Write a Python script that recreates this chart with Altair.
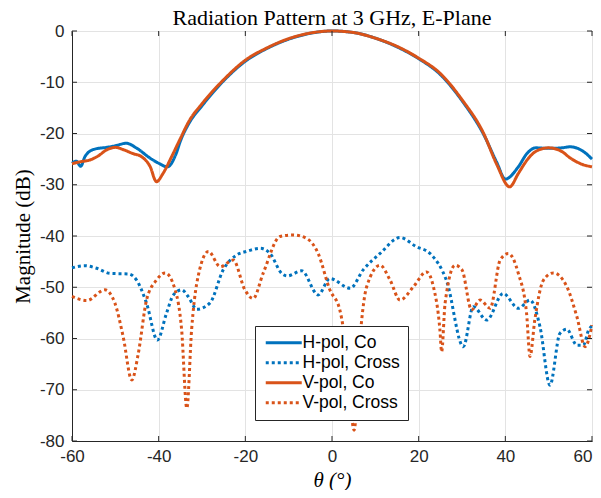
import altair as alt
import pandas as pd

# ---- data ----
h_co_theta = [-60, -59, -58, -57, -55, -52, -50, -47.5, -45, -42, -40, -38, -36, -35, -33, -30, -25, -20, -15, -10, -5, 0,
              5, 10, 15, 20, 25, 30, 35, 38, 40, 43, 45, 47, 50, 53, 55, 58, 60]
h_co_db = [-25.8, -25.4, -26.4, -24.5, -23.1, -22.7, -22.4, -21.9, -22.9, -24.8, -25.8, -26.5, -24.0, -21.5, -18.0, -14.6,
           -9.7, -5.9, -3.4, -1.6, -0.45, 0.0, -0.3, -1.4, -3.1, -5.4, -8.5, -13.6, -20.2, -25.6, -28.9, -26.5, -23.9,
           -22.8, -22.9, -22.8, -22.6, -23.5, -25.0]

v_co_theta = [-60, -58, -56, -54, -52, -50, -48, -46, -44, -42, -40.5, -39, -37, -35, -33, -30, -25, -20, -15, -10, -5, 0,
              5, 10, 15, 20, 25, 30, 35, 38, 41, 43, 45, 47, 50, 53, 55, 58, 60]
v_co_db = [-25.9, -25.5, -25.2, -24.4, -23.2, -22.7, -23.2, -23.9, -24.5, -26.4, -29.4, -27.8, -24.5, -21.0, -17.6, -14.2,
           -9.5, -5.7, -3.3, -1.5, -0.4, 0.0, -0.3, -1.4, -3.0, -5.3, -8.3, -13.4, -20.0, -26.0, -30.4, -27.8, -25.2,
           -23.5, -22.8, -23.5, -24.8, -26.1, -26.5]

h_x_theta = [-60, -57, -54.3, -51.2, -47, -45.1, -42.8, -40.3, -38.2, -36.6, -34.7, -33.2, -31.2, -28.2, -25.1, -22,
             -19.7, -16.6, -14.3, -11.6, -10.3, -7, -3.2, -0.5, 4.2, 7.2, 11.1, 15.7, 19.5, 22.6, 26.5, 30.3, 32.6,
             35.7, 39.5, 43, 45.7, 48, 50.3, 52.6, 54.2, 56.5, 58, 59.2, 60]
h_x_db = [-46.2, -45.8, -46.3, -47.3, -47.4, -48.6, -53.1, -60.3, -55.1, -51.5, -50.5, -51.8, -54.3, -53.1, -46.6, -43.7,
          -43.0, -42.4, -43.4, -47.3, -47.8, -46.8, -51.5, -48.3, -50.2, -46.6, -43.4, -40.3, -42.1, -43.4, -48.9, -61.6,
          -53.8, -56.4, -51.2, -54.1, -52.5, -57.7, -69.1, -59.0, -58.2, -61.3, -61.3, -58.4, -57.5]

v_x_theta = [-60, -56.6, -52.4, -50.1, -48.2, -46.2, -44.7, -42.8, -40.5, -38.5, -36.2, -34.7, -33.5, -32.4, -31.2,
             -28.5, -25.8, -22.8, -20.1, -18.2, -15.9, -12, -8.9, -5.8, -3.2, -0.5, 1.8, 3.4, 5.1, 6.5, 8, 11.1, 13.4,
             15.7, 18.8, 21.8, 23.4, 24.9, 25.3, 26.1, 28.4, 30, 32.2, 34.2, 36.5, 38.8, 40.7, 43, 44.9, 45.7, 46.8,
             48.8, 51.1, 54.2, 56.5, 58.4, 60]
v_x_db = [-51.8, -52.6, -50.5, -53.1, -59.6, -68.1, -62.9, -52.5, -48.6, -47.2, -50.5, -58.3, -73.6, -58.3, -49.2,
          -43.0, -46.0, -44.7, -50.5, -52.2, -47.3, -40.1, -39.8, -40.5, -43.4, -50.5, -54.4, -62.9, -77.9, -59.6, -49.9,
          -45.7, -48.6, -52.5, -49.9, -47.0, -49.9, -58.3, -62.6, -53.1, -45.7, -46.6, -54.4, -52.5, -54.1, -44.7, -43.4,
          -47.3, -55.1, -63.5, -56.4, -48.6, -47.2, -49.9, -55.7, -61.6, -57.4]

series_names = ["H-pol, Co", "H-pol, Cross", "V-pol, Co", "V-pol, Cross"]
series_colors = ["#0072BD", "#0072BD", "#D95319", "#D95319"]
series_dash = [[1, 0], [3, 3], [1, 0], [3, 3]]

x_ticks = [-60, -40, -20, 0, 20, 40, 60]
y_ticks = [-80, -70, -60, -50, -40, -30, -20, -10, 0]

rows = []
for name, th, db in zip(series_names,
                        [h_co_theta, h_x_theta, v_co_theta, v_x_theta],
                        [h_co_db, h_x_db, v_co_db, v_x_db]):
    for t, d in zip(th, db):
        rows.append({"series": name, "theta": t, "db": d})
df = pd.DataFrame(rows)

axis_col = "#262626"
W, H = 520, 410
x_scale = alt.Scale(domain=[-60, 60], nice=False)
y_scale = alt.Scale(domain=[-80, 0], nice=False)

lines = alt.Chart(df).mark_line(strokeWidth=3, interpolate="monotone", strokeCap="butt").encode(
    x=alt.X("theta:Q", scale=x_scale,
            axis=alt.Axis(values=x_ticks, title="θ (°)", ticks=False, labelPadding=7,
                          labelExpr="'' + datum.value",
                          labelAlign={"condition": {"test": "datum.value == 60", "value": "right"},
                                      "value": "center"},
                          titlePadding=5, titleFont="Liberation Serif", titleFontSize=21,
                          titleFontWeight="normal", titleFontStyle="italic")),
    y=alt.Y("db:Q", scale=y_scale,
            axis=alt.Axis(values=y_ticks, title="Magnitude (dB)", ticks=False, labelPadding=8,
                          labelExpr="'' + datum.value",
                          titlePadding=6, titleFont="Liberation Serif", titleFontSize=21,
                          titleFontWeight="normal")),
    color=alt.Color("series:N", title=None,
                    scale=alt.Scale(domain=series_names, range=series_colors),
                    legend=alt.Legend(orient="none", legendX=183, legendY=295)),
    strokeDash=alt.StrokeDash("series:N", title=None,
                              scale=alt.Scale(domain=series_names, range=series_dash)),
    detail="series:N",
)

xt = pd.DataFrame({"theta": x_ticks})
yt = pd.DataFrame({"db": y_ticks})
tick_style = dict(color=axis_col, strokeWidth=1)
ticks_bottom = alt.Chart(xt).mark_rule(**tick_style).encode(
    x=alt.X("theta:Q", scale=x_scale), y=alt.value(H), y2=alt.value(H - 5))
ticks_top = alt.Chart(xt).mark_rule(**tick_style).encode(
    x=alt.X("theta:Q", scale=x_scale), y=alt.value(0), y2=alt.value(5))
ticks_left = alt.Chart(yt).mark_rule(**tick_style).encode(
    y=alt.Y("db:Q", scale=y_scale), x=alt.value(0), x2=alt.value(5))
ticks_right = alt.Chart(yt).mark_rule(**tick_style).encode(
    y=alt.Y("db:Q", scale=y_scale), x=alt.value(W), x2=alt.value(W - 5))

chart = alt.layer(lines, ticks_bottom, ticks_top, ticks_left, ticks_right).properties(
    width=W, height=H,
    title=alt.Title("Radiation Pattern at 3 GHz, E-Plane", font="Liberation Serif",
                    fontSize=22, fontWeight="normal", color="#000000", offset=-8),
    autosize=alt.AutoSizeParams(type="none"),
    padding={"left": 64, "top": 23, "right": 1, "bottom": 49},
).configure_view(
    stroke=axis_col, strokeWidth=1
).configure_axis(
    domainColor=axis_col, labelColor=axis_col, titleColor="#000000",
    labelFont="Liberation Sans", labelFontSize=17, labelFlush=False,
    gridColor="#e3e3e3", gridWidth=1,
).configure_legend(
    fillColor="white", strokeColor=axis_col, padding=8, rowPadding=1,
    labelFont="Liberation Sans", labelFontSize=17.5, labelColor="#000000",
    symbolType="M-1,0H5", symbolSize=144, symbolStrokeWidth=3, labelOffset=22,
    cornerRadius=0,
)

chart.save("out.html", embed_options={"renderer": "svg", "actions": False})
